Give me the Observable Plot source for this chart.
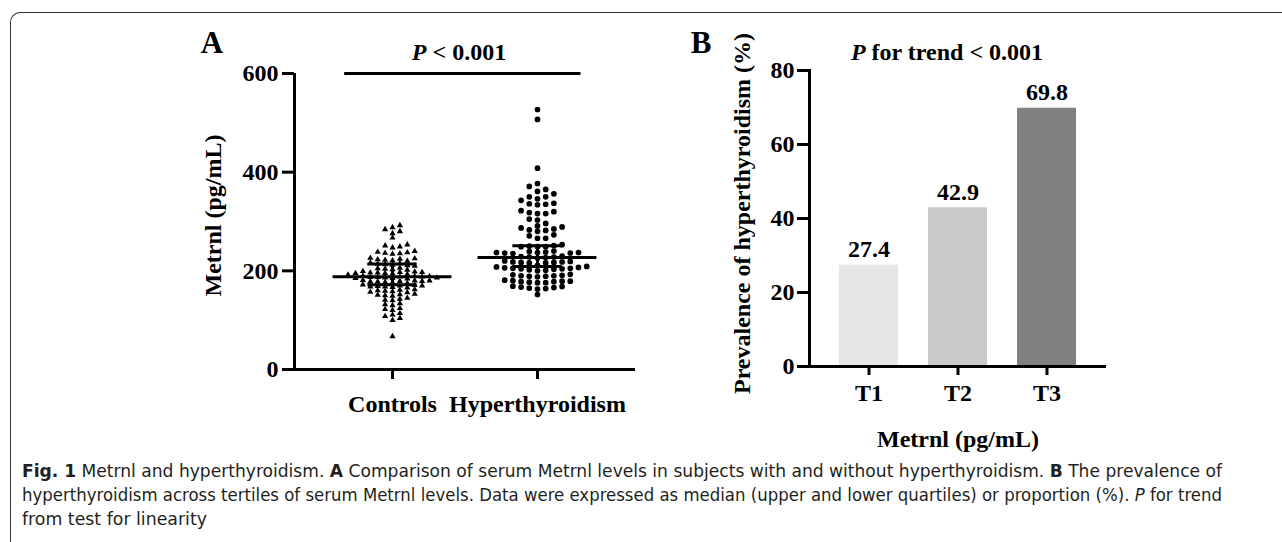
<!DOCTYPE html>
<html><head><meta charset="utf-8">
<script src="https://cdn.jsdelivr.net/npm/d3@7"></script>
<script src="https://cdn.jsdelivr.net/npm/@observablehq/plot@0.6"></script>
<style>
html,body{margin:0;padding:0;background:#fff}
#fig{position:relative;width:1282px;height:542px;overflow:hidden;background:#fff}
#frame{position:absolute;left:10px;top:12px;width:1400px;height:700px;border-left:1.5px solid #333;border-top:1.5px solid #333;border-top-left-radius:10px;box-sizing:border-box}
.panel{position:absolute;top:0}
#overlay{position:absolute;left:0;top:0}
</style></head><body>
<div id="fig">
<div id="frame"></div>
<div id="panelA" class="panel" style="left:0"></div>
<div id="panelB" class="panel" style="left:660px"></div>
<svg id="overlay" width="1282" height="542" font-family="'Liberation Serif', 'Times New Roman', serif">
  <text x="212" y="53" font-size="31" font-weight="bold" text-anchor="middle">A</text>
  <text x="701" y="53" font-size="31" font-weight="bold" text-anchor="middle">B</text>
  <g font-family="'DejaVu Sans Condensed', 'DejaVu Sans', sans-serif" font-stretch="condensed" font-size="18" fill="#231f20">
    <text x="22" y="477" textLength="1200" lengthAdjust="spacingAndGlyphs"><tspan font-weight="bold">Fig. 1</tspan>  Metrnl and hyperthyroidism. <tspan font-weight="bold">A</tspan> Comparison of serum Metrnl levels in subjects with and without hyperthyroidism. <tspan font-weight="bold">B</tspan> The prevalence of</text>
    <text x="22" y="501" textLength="1200" lengthAdjust="spacingAndGlyphs">hyperthyroidism across tertiles of serum Metrnl levels. Data were expressed as median (upper and lower quartiles) or proportion (%). <tspan font-style="italic">P</tspan> for trend</text>
    <text x="22" y="525" textLength="185" lengthAdjust="spacingAndGlyphs">from test for linearity</text>
  </g>
</svg>
</div>
<script>
// ---------- Panel A data ----------
const groups = ["Controls", "Hyperthyroidism"];
const controls = [292,288,284,280,276,267,
  253,251,249,247,
  240,238,237,236,235,234,
  226,225,224,223,222,221,220,
  216,215,214,213,212,211,210,
  206,205,204,203,202,
  199,198,197,197,196,196,195,195,194,193,192,
  190,189,189,188,188,187,187,186,186,185,185,184,
  181,180,180,179,179,178,178,177,176,175,
  172,171,170,170,169,168,168,167,166,
  162,161,160,159,158,157,156,
  153,152,151,150,149,
  145,143,141,140,
  134,132,130,
  124,122,120,
  114,111,108,
  104,100,
  67];
const hyperthyroidism = [527,507,408,377,371,365,361,356,350,350,346,343,
  337,336,335,334,
  322,320,318,316,316,
  305,303,296,291,289,
  287,285,283,282,280,
  273,271,266,266,
  253,251,250,249,249,249,
  240,239,238,237,237,237,236,236,235,
  230,229,228,228,227,226,
  220,219,218,218,217,217,216,216,
  211,209,208,207,206,205,205,204,204,203,202,201,200,
  193,192,191,190,190,189,189,188,
  181,180,179,179,178,178,177,176,176,
  169,168,167,166,165,164,163,
  152];
const medians = [188, 227];
const lowerQuartiles = [172, 209];
const upperQuartiles = [214, 251];
const pTextA = "P < 0.001";
const sigLevel = 600;
const yTicksA = [0, 200, 400, 600];
const yLabelA = "Metrnl (pg/mL)";

// ---------- Panel B data ----------
const tertiles = ["T1", "T2", "T3"];
const prevalence = [27.4, 42.9, 69.8];
const barColors = ["#e6e6e6", "#c9c9c9", "#808080"];
const yTicksB = [0, 20, 40, 60, 80];
const pTextB = "P for trend < 0.001";
const yLabelB = "Prevalence of hyperthyroidism (%)";
const xLabelB = "Metrnl (pg/mL)";

const serif = "'Liberation Serif', 'Times New Roman', serif";
const H = 450;

// ---------- beeswarm layout (pixel-based collision) ----------
function swarm(values, pxPerUnit, step, rowH) {
  const order = d3.range(values.length).sort((a, b) => values[a] - values[b]);
  const placed = [], off = new Array(values.length);
  for (const i of order) {
    const py = values[i] * pxPerUnit;
    const near = placed.filter(p => Math.abs(p.py - py) < rowH);
    for (let k = 0; ; k++) {
      const c = k === 0 ? 0 : (k % 2 ? 1 : -1) * Math.ceil(k / 2) * step / 2;
      if (near.every(p => Math.abs(p.px - c) >= step - 1e-9)) {
        off[i] = c; placed.push({py, px: c}); break;
      }
    }
  }
  return off;
}

// ---------- Panel A ----------
const WA = 660;
const mA = {left: 294, right: 25, top: 73, bottom: 81};
const xDomA = [-0.676, 1.676];
const yDomA = [0, 600];
const kx = (WA - mA.left - mA.right) / (xDomA[1] - xDomA[0]);
const ky = (H - mA.top - mA.bottom) / (yDomA[1] - yDomA[0]);

const offC = swarm(controls, ky, 7.4, 4.4);
const offH = swarm(hyperthyroidism, ky, 8.2, 5.0);
const ptsC = controls.map((v, i) => ({g: 0, value: v, x: 0 + offC[i] / kx}));
const ptsH = hyperthyroidism.map((v, i) => ({g: 1, value: v, x: 1 + offH[i] / kx}));
const stats = groups.map((g, i) => ({i, median: medians[i], q1: lowerQuartiles[i], q3: upperQuartiles[i]}));

const plotA = Plot.plot({
  width: WA, height: H,
  marginLeft: mA.left, marginRight: mA.right, marginTop: mA.top, marginBottom: mA.bottom,
  style: {fontFamily: serif, fontSize: "24px", fontWeight: "bold", color: "#000", background: "transparent", overflow: "visible"},
  x: {domain: xDomA},
  y: {domain: yDomA},
  marks: [
    Plot.dot(ptsC, {x: "x", y: "value", symbol: "triangle", r: 2.3, fill: "#000", stroke: "none"}),
    Plot.dot(ptsH, {x: "x", y: "value", symbol: "circle", r: 2.85, fill: "#000", stroke: "none"}),
    Plot.ruleY(stats, {y: "median", x1: d => d.i - 0.41, x2: d => d.i + 0.41, strokeWidth: 3}),
    Plot.ruleY(stats, {y: "q1", x1: d => d.i - 0.17, x2: d => d.i + 0.17, strokeWidth: 3}),
    Plot.ruleY(stats, {y: "q3", x1: d => d.i - 0.17, x2: d => d.i + 0.17, strokeWidth: 3}),
    Plot.ruleX(stats, {x: "i", y1: "q1", y2: "q3", strokeWidth: 3}),
    Plot.ruleY([sigLevel], {x1: -0.33, x2: 1.30, strokeWidth: 3}),
    Plot.text([pTextA], {frameAnchor: "top", lineAnchor: "bottom", dx: -6, dy: -14, fontSize: 24, fontWeight: "bold"}),
    Plot.ruleX([xDomA[0]], {strokeWidth: 3}),
    Plot.ruleY([0], {strokeWidth: 3}),
    Plot.axisY({ticks: yTicksA, tickSize: 12, tickPadding: 4, strokeWidth: 3, fontSize: 24, fontWeight: "bold", label: null}),
    Plot.axisX({ticks: [0, 1], tickFormat: i => groups[i], tickSize: 10, tickPadding: 15, strokeWidth: 3, fontSize: 24, fontWeight: "bold", label: null}),
    Plot.text([yLabelA], {frameAnchor: "left", textAnchor: "middle", lineAnchor: "middle", rotate: -90, dx: -81, dy: -6, fontSize: 24, fontWeight: "bold"})
  ]
});
document.getElementById("panelA").append(plotA);

// ---------- Panel B ----------
const WB = 500;
const mB = {left: 149, right: 54, top: 70, bottom: 84};
const bars = tertiles.map((t, i) => ({t, p: prevalence[i], c: barColors[i]}));
const plotB = Plot.plot({
  width: WB, height: H,
  marginLeft: mB.left, marginRight: mB.right, marginTop: mB.top, marginBottom: mB.bottom,
  style: {fontFamily: serif, fontSize: "24px", fontWeight: "bold", color: "#000", background: "transparent", overflow: "visible"},
  x: {domain: tertiles, padding: 0.337},
  y: {domain: [0, 80]},
  marks: [
    Plot.barY(bars, {x: "t", y: "p", fill: "c"}),
    Plot.text(bars, {x: "t", y: "p", text: d => d.p.toFixed(1), lineAnchor: "bottom", dy: -8, fontSize: 24, fontWeight: "bold"}),
    Plot.frame({anchor: "left", strokeWidth: 3}),
    Plot.ruleY([0], {strokeWidth: 3}),
    Plot.axisY({ticks: yTicksB, tickSize: 12, tickPadding: 3, strokeWidth: 3, fontSize: 24, fontWeight: "bold", label: null}),
    Plot.axisX({tickSize: 9, tickPadding: 8, strokeWidth: 3, fontSize: 24, fontWeight: "bold", label: null}),
    Plot.text([pTextB], {frameAnchor: "top", lineAnchor: "bottom", dx: -11, dy: -11, fontSize: 24, fontWeight: "bold"}),
    Plot.text([yLabelB], {frameAnchor: "left", textAnchor: "middle", lineAnchor: "middle", rotate: -90, dx: -67, dy: -5, fontSize: 24, fontWeight: "bold"}),
    Plot.text([xLabelB], {frameAnchor: "bottom", lineAnchor: "bottom", dy: 80, fontSize: 24, fontWeight: "bold"})
  ]
});
document.getElementById("panelB").append(plotB);

// italicise the leading "P" of the P-value annotations
for (const svg of [plotA, plotB]) {
  for (const t of svg.querySelectorAll("text")) {
    const s = t.textContent;
    if (s === pTextA || s === pTextB) {
      t.textContent = "";
      const a = document.createElementNS("http://www.w3.org/2000/svg", "tspan");
      a.setAttribute("font-style", "italic"); a.textContent = "P";
      const b = document.createElementNS("http://www.w3.org/2000/svg", "tspan");
      b.textContent = s.slice(1);
      t.append(a, b);
    }
  }
}
</script>
</body></html>
